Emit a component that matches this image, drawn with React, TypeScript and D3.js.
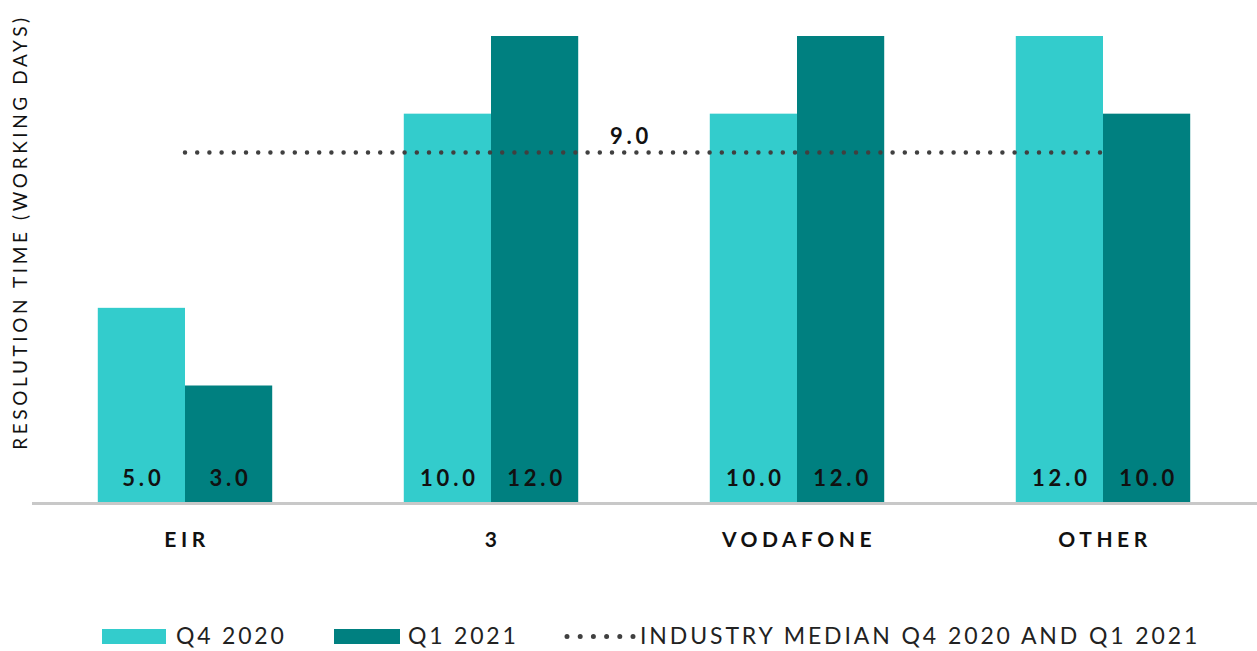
import React from "react";
import * as d3 from "d3";

const categories = ["EIR", "3", "VODAFONE", "OTHER"];
const seriesNames = ["Q4 2020", "Q1 2021"];
const q4_2020 = [5.0, 10.0, 10.0, 12.0];
const q1_2021 = [3.0, 12.0, 12.0, 10.0];
const medianValue = 9.0;
const medianLabel = "INDUSTRY MEDIAN Q4 2020 AND Q1 2021";
const yTitle = "RESOLUTION TIME (WORKING DAYS)";

const W = 1257;
const H = 651;
const colors = ["#33CCCC", "#008080"];
const FONT = "Lato, 'Open Sans', sans-serif";

export default function App() {
  const x = d3
    .scaleBand<string>()
    .domain(categories)
    .range([32, 1256])
    .paddingInner(0.43)
    .paddingOuter(0.215);
  const x1 = d3.scaleBand<string>().domain(seriesNames).range([0, x.bandwidth()]);
  const y = d3.scaleLinear().domain([0, 12]).range([502, 36]);
  const series = [q4_2020, q1_2021];

  const medX0 = (x(categories[0]) as number) + x.bandwidth() / 2;
  const medX1 = (x(categories[categories.length - 1]) as number) + x.bandwidth() / 2;
  const medLine = d3.line()([
    [medX0, y(medianValue)],
    [medX1, y(medianValue)],
  ]) as string;

  return (
    <svg
      width={W}
      height={H}
      style={{ position: "absolute", left: 0, top: 0, background: "#fff" }}
      fontFamily={FONT}
    >
      {categories.map((c, i) =>
        series.map((s, j) => (
          <rect
            key={c + j}
            x={(x(c) as number) + (x1(seriesNames[j]) as number)}
            y={y(s[i])}
            width={x1.bandwidth()}
            height={y(0) - y(s[i])}
            fill={colors[j]}
          />
        ))
      )}
      {categories.map((c, i) =>
        series.map((s, j) => (
          <text
            key={"v" + c + j}
            x={(x(c) as number) + (x1(seriesNames[j]) as number) + x1.bandwidth() / 2 + 2}
            y={486}
            textAnchor="middle"
            fontSize={22}
            fontWeight={700}
            letterSpacing={3.8}
            fill="#111"
          >
            {s[i].toFixed(1)}
          </text>
        ))
      )}
      <line x1={32} x2={1257} y1={503.5} y2={503.5} stroke="#c8c8c8" strokeWidth={3} />
      <path
        d={medLine}
        stroke="#404040"
        strokeWidth={4.5}
        strokeLinecap="round"
        strokeDasharray="0 12.2"
        fill="none"
      />
      <text x={631} y={144} textAnchor="middle" fontSize={22} fontWeight={700} letterSpacing={3.8} fill="#111">
        {medianValue.toFixed(1)}
      </text>
      {categories.map((c) => (
        <text
          key={"c" + c}
          x={(x(c) as number) + x.bandwidth() / 2 + 2}
          y={547}
          textAnchor="middle"
          fontSize={21}
          fontWeight={700}
          letterSpacing={4.5}
          fill="#111"
        >
          {c}
        </text>
      ))}
      <text
        transform={`translate(27,232) rotate(-90)`}
        textAnchor="middle"
        fontSize={19}
        letterSpacing={3.6}
        fill="#111"
      >
        {yTitle}
      </text>
      {/* legend */}
      <rect x={102} y={629} width={64} height={15} fill={colors[0]} />
      <text x={176} y={644} fontSize={23} letterSpacing={2.8} fill="#222">
        {seriesNames[0]}
      </text>
      <rect x={334} y={629} width={66} height={15} fill={colors[1]} />
      <text x={408} y={644} fontSize={23} letterSpacing={2.8} fill="#222">
        {seriesNames[1]}
      </text>
      <path
        d={d3.line()([
          [567, 636.5],
          [633, 636.5],
        ]) as string}
        stroke="#404040"
        strokeWidth={5}
        strokeLinecap="round"
        strokeDasharray="0 13.2"
        fill="none"
      />
      <text x={640} y={644} fontSize={23} letterSpacing={2.9} fill="#222">
        {medianLabel}
      </text>
    </svg>
  );
}
